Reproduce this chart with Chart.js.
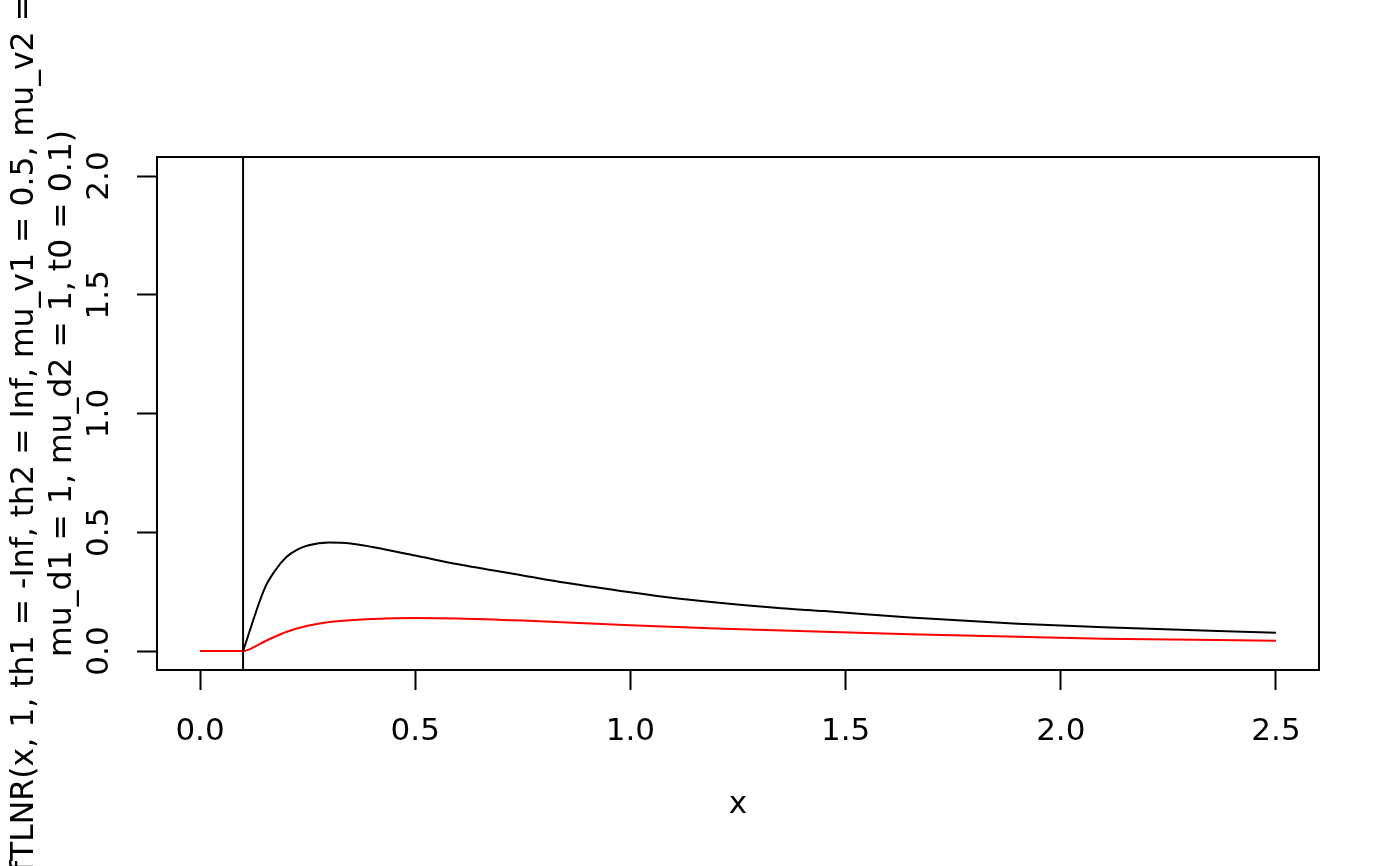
<!DOCTYPE html>
<html lang="en">
<head>
    <meta charset="UTF-8">
    <title>fTLNR density</title>
    <script src="https://cdn.jsdelivr.net/npm/chart.js"></script>
    <style>
        html, body { margin: 0; padding: 0; background: #fff; }
        canvas { display: block; }
    </style>
</head>
<body>
    <canvas id="densityChart" width="1400" height="866"></canvas>

    <script>
        // values
        const blackX = [0.1, 0.15, 0.175, 0.2, 0.225, 0.25, 0.3, 0.35, 0.4, 0.5, 0.6, 0.75, 0.85, 1.0, 1.1, 1.2, 1.35, 1.45, 1.65, 1.9, 2.1, 2.5];
        const blackY = [0, 0.263, 0.340, 0.395, 0.426, 0.444, 0.457, 0.453, 0.438, 0.402, 0.365, 0.318, 0.287, 0.247, 0.223, 0.204, 0.180, 0.168, 0.141, 0.115, 0.100, 0.077];

        const redX = [0, 0.05, 0.1, 0.125, 0.15, 0.175, 0.2, 0.25, 0.3, 0.4, 0.5, 0.6, 0.75, 1.0, 1.2, 1.45, 1.65, 1.9, 2.1, 2.5];
        const redY = [0, 0, 0, 0.016, 0.040, 0.061, 0.080, 0.106, 0.122, 0.135, 0.139, 0.137, 0.128, 0.108, 0.095, 0.081, 0.071, 0.060, 0.052, 0.043];

        // abline at t0
        const vLineX = [0.1, 0.1];
        const vLineY = [-1, 3];

        const xTicks = [0, 0.5, 1.0, 1.5, 2.0, 2.5];
        const yTicks = [0, 0.5, 1.0, 1.5, 2.0];

        const xTitle = 'x';
        const yTitle = [
            'fTLNR(x, 1, th1 = -Inf, th2 = Inf, mu_v1 = 0.5, mu_v2 = 1,',
            '    mu_d1 = 1, mu_d2 = 1, t0 = 0.1)'
        ];

        const FONT = 'DejaVu Sans';
        const FSIZE = 31;

        const toPoints = (xs, ys) => xs.map((x, i) => ({ x: x, y: ys[i] }));

        // box around plot region + rotated y label (drawn without maxWidth squeeze)
        const rFrame = {
            id: 'rFrame',
            afterDraw(chart) {
                const { ctx, chartArea } = chart;
                ctx.save();
                ctx.strokeStyle = '#000';
                ctx.lineWidth = 2;
                ctx.strokeRect(chartArea.left, chartArea.top,
                    chartArea.right - chartArea.left, chartArea.bottom - chartArea.top);

                const cy = (chartArea.top + chartArea.bottom) / 2;
                ctx.fillStyle = '#000';
                ctx.font = '31.5px "' + FONT + '"';
                ctx.textAlign = 'center';
                ctx.textBaseline = 'middle';
                const xs = [25, 63];
                yTitle.forEach((line, i) => {
                    ctx.save();
                    ctx.translate(xs[i], cy);
                    ctx.rotate(-Math.PI / 2);
                    ctx.fillText(line, 0, 0);
                    ctx.restore();
                });
                ctx.restore();
            }
        };

        const ctx = document.getElementById('densityChart').getContext('2d');
        new Chart(ctx, {
            type: 'line',
            data: {
                datasets: [
                    {
                        data: toPoints(blackX, blackY),
                        borderColor: '#000000',
                        borderWidth: 2,
                        pointRadius: 0,
                        fill: false,
                        cubicInterpolationMode: 'monotone'
                    },
                    {
                        data: toPoints(redX, redY),
                        borderColor: '#FF0000',
                        borderWidth: 2,
                        pointRadius: 0,
                        fill: false,
                        cubicInterpolationMode: 'monotone'
                    },
                    {
                        data: toPoints(vLineX, vLineY),
                        borderColor: '#000000',
                        borderWidth: 2,
                        pointRadius: 0,
                        fill: false,
                        clip: 0
                    }
                ]
            },
            options: {
                responsive: false,
                animation: false,
                layout: { padding: { top: 157, right: 81, left: 0, bottom: 0 } },
                plugins: {
                    legend: { display: false },
                    tooltip: { enabled: false }
                },
                scales: {
                    x: {
                        type: 'linear',
                        min: -0.1,
                        max: 2.6,
                        afterBuildTicks: (scale) => { scale.ticks = xTicks.map(v => ({ value: v })); },
                        afterFit: (scale) => { scale.height = 196; },
                        border: { display: false },
                        grid: {
                            drawOnChartArea: false,
                            drawTicks: true,
                            tickLength: 20,
                            tickWidth: 2,
                            tickColor: '#000'
                        },
                        ticks: {
                            color: '#000',
                            padding: 23,
                            maxRotation: 0,
                            autoSkip: false,
                            font: { family: FONT, size: FSIZE },
                            callback: (v) => Number(v).toFixed(1)
                        },
                        title: {
                            display: true,
                            text: xTitle,
                            color: '#000',
                            font: { family: FONT, size: FSIZE },
                            padding: { top: 0, bottom: 42 }
                        }
                    },
                    y: {
                        type: 'linear',
                        min: -0.08,
                        max: 2.08,
                        afterBuildTicks: (scale) => { scale.ticks = yTicks.map(v => ({ value: v })); },
                        afterFit: (scale) => { scale.width = 157; },
                        border: { display: false },
                        grid: {
                            drawOnChartArea: false,
                            drawTicks: true,
                            tickLength: 20,
                            tickWidth: 2,
                            tickColor: '#000'
                        },
                        ticks: {
                            color: '#000',
                            padding: 12,
                            minRotation: 90,
                            maxRotation: 90,
                            crossAlign: 'center',
                            autoSkip: false,
                            font: { family: FONT, size: FSIZE },
                            callback: (v) => Number(v).toFixed(1)
                        }
                    }
                }
            },
            plugins: [rFrame]
        });
    </script>
</body>
</html>
